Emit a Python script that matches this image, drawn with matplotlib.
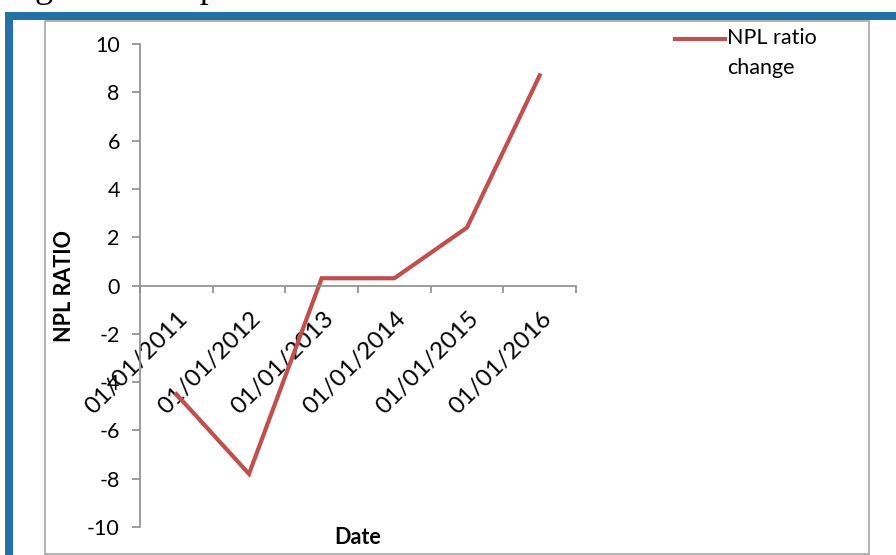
import numpy as np
import matplotlib
matplotlib.use('Agg')
import matplotlib.pyplot as plt
from matplotlib.patches import Rectangle
from matplotlib.lines import Line2D
from matplotlib.transforms import ScaledTranslation

# NPL ratio change by year
dates = ['01/01/2011', '01/01/2012', '01/01/2013',
         '01/01/2014', '01/01/2015', '01/01/2016']
npl_change = [-4.5, -7.8, 0.3, 0.3, 2.4, 8.7]
series_name = 'NPL ratio\nchange'
y_ticks = [-10, -8, -6, -4, -2, 0, 2, 4, 6, 8, 10]

W, H = 896, 555
line_red = '#C0504D'
axis_gray = '#8C8C8C'
frame_blue = '#2372A6'

plt.rcParams['font.family'] = ['Lato', 'DejaVu Sans']
plt.rcParams['axes.unicode_minus'] = False

fig = plt.figure(figsize=(W / 100, H / 100), dpi=100)


def px(x, y):
    '''pixel position (from top-left) to figure fraction'''
    return x / W, 1 - y / H


# blue frame along the top and left, gray chart border inside it
fig.add_artist(Rectangle(px(5, 20), (W - 5) / W, 8 / H, transform=fig.transFigure,
                         color=frame_blue, lw=0))
fig.add_artist(Rectangle(px(5, H), 8 / W, (H - 12) / H, transform=fig.transFigure,
                         color=frame_blue, lw=0))
fig.add_artist(Rectangle(px(45, 554), (869 - 45) / W, (554 - 21) / H,
                         transform=fig.transFigure, fill=False,
                         edgecolor='#A6A6A6', lw=1.2))

# caption above the frame, mostly cut off by the top edge
fig.text(5 / W, 1 + 3 / H, 'Figure 2: Graph', family='Liberation Serif',
         fontsize=26, va='baseline', ha='left', color='black')

ax = fig.add_axes([140 / W, 28 / H, 436 / W, 483 / H])
x = np.arange(len(dates))
ax.plot(x, npl_change, color=line_red, lw=3, solid_joinstyle='miter')

ax.set_xlim(-0.5, len(dates) - 0.5)
ax.set_ylim(-10, 10)
ax.set_facecolor('none')

for side in ['top', 'right']:
    ax.spines[side].set_visible(False)
ax.spines['bottom'].set_position(('data', 0))
for side in ['bottom', 'left']:
    ax.spines[side].set_color(axis_gray)
    ax.spines[side].set_linewidth(1.2)

ax.set_yticks(y_ticks)
ax.set_yticklabels([str(v) for v in y_ticks])
ax.tick_params(axis='y', direction='out', length=5.5, width=1.2, color=axis_gray,
               pad=9, labelsize=15.5, labelcolor='black')

# category boundaries carry the tick marks, centres carry the labels
ax.set_xticks(np.arange(-0.5, len(dates), 1))
ax.set_xticklabels([])
ax.set_xticks(x, minor=True)
ax.set_xticklabels(dates, minor=True, rotation=45, ha='right', va='top',
                   rotation_mode='anchor')
ax.tick_params(axis='x', which='major', direction='out', length=5, width=1.2,
               color=axis_gray)
ax.tick_params(axis='x', which='minor', length=0, pad=16, labelsize=17.5,
               labelcolor='black')
shift = ScaledTranslation(0.01, 0, fig.dpi_scale_trans)
for lab in ax.get_xticklabels(minor=True):
    lab.set_transform(lab.get_transform() + shift)

ax.set_ylabel('NPL RATIO', fontsize=15.5, fontweight='bold')
ax.yaxis.set_label_coords((64 - 140) / 436, (527 - 286) / 483)
ax.yaxis.label.set_verticalalignment('center')
ax.set_xlabel('Date', fontsize=15.5, fontweight='bold')
ax.xaxis.set_label_coords((358 - 140) / 436, (527 - 537) / 483)
ax.xaxis.label.set_verticalalignment('center')

# legend entry at the top right
y_leg = 39
fig.add_artist(Line2D([675 / W, 725 / W], [1 - y_leg / H] * 2,
                      transform=fig.transFigure, color=line_red, lw=3))
fig.text(727 / W, 1 - (y_leg - 11) / H, series_name, fontsize=15.5,
         va='top', ha='left', linespacing=1.6)

fig.savefig('out.png', dpi=100)
